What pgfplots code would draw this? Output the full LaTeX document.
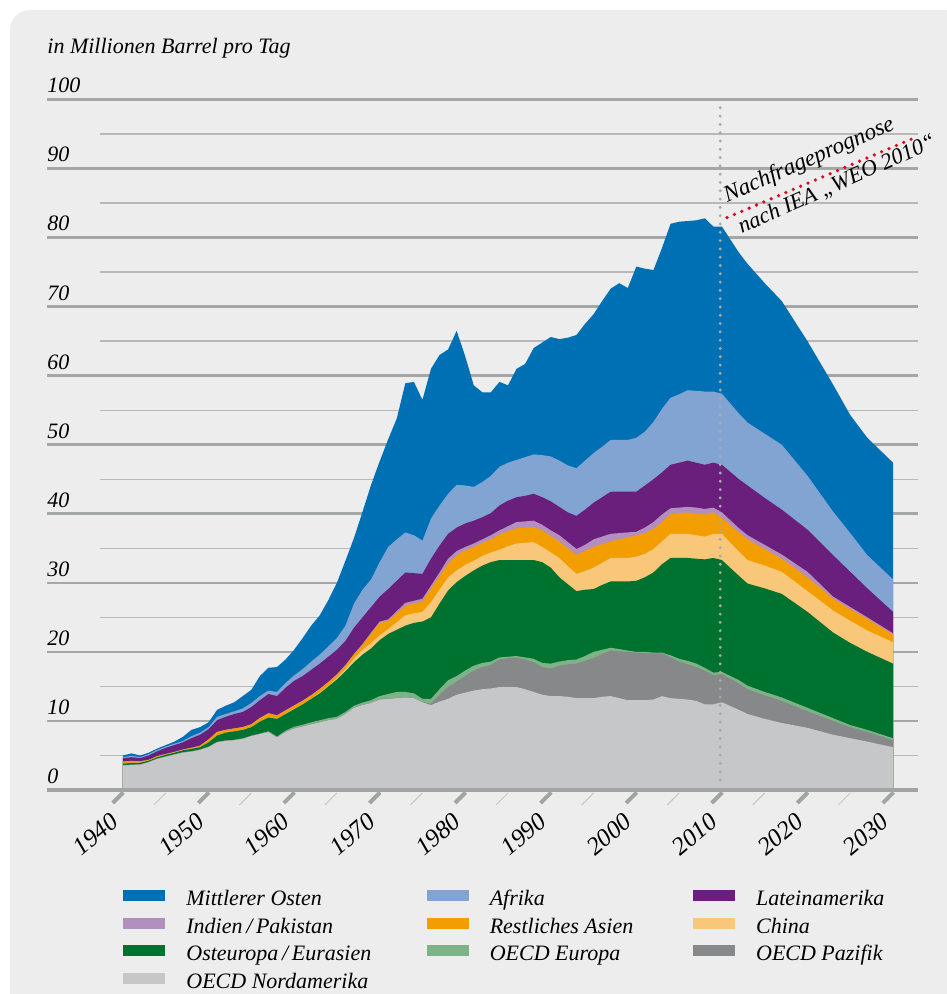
\documentclass[border=0pt]{standalone}
\usepackage{fontspec}
\setmainfont{Liberation Serif}
\usepackage{pgfplots}
\pgfplotsset{compat=1.18}
\usepackage{pgfplotstable}

\definecolor{cMO}{HTML}{0070B4}
\definecolor{cAF}{HTML}{81A4D2}
\definecolor{cLA}{HTML}{6B1F7C}
\definecolor{cIN}{HTML}{B38FBF}
\definecolor{cAS}{HTML}{F29E00}
\definecolor{cCN}{HTML}{F9C779}
\definecolor{cOE}{HTML}{00722F}
\definecolor{cEU}{HTML}{7DB387}
\definecolor{cPA}{HTML}{878889}
\definecolor{cNA}{HTML}{C6C7C9}
\definecolor{bg}{HTML}{ECEDEC}
\definecolor{gridc}{HTML}{A5A6A6}
\definecolor{gridthin}{HTML}{B7B8B8}
\definecolor{axisc}{HTML}{A2A3A3}
\definecolor{dotc}{HTML}{A8A9A9}
\definecolor{redc}{HTML}{E2001A}
\definecolor{minortick}{HTML}{C6C7C7}

% cumulative upper edge of each regional band (stacked from OECD Nordamerika upwards)
\pgfplotstableread{
year NA PAZ EUR OST CHN ASI IND LAT AFR MO
1940 3.55 3.60 3.62 3.85 3.87 4.10 4.12 4.60 4.75 5.00
1941 3.60 3.65 3.67 3.90 3.92 4.20 4.22 4.75 4.95 5.30
1942 3.65 3.70 3.72 3.95 3.97 4.15 4.17 4.60 4.75 5.00
1943 4.00 4.05 4.07 4.25 4.27 4.35 4.37 5.00 5.20 5.40
1944 4.50 4.55 4.57 4.75 4.77 4.90 4.92 5.60 5.80 6.00
1945 4.80 4.85 4.87 5.10 5.12 5.20 5.22 6.10 6.30 6.50
1946 5.10 5.15 5.17 5.40 5.42 5.50 5.52 6.50 6.70 7.00
1947 5.40 5.45 5.47 5.75 5.77 5.85 5.87 6.90 7.10 7.70
1948 5.55 5.60 5.62 5.95 5.97 6.10 6.12 7.50 7.80 8.70
1949 5.80 5.85 5.87 6.20 6.22 6.40 6.42 8.00 8.30 9.10
1950 6.20 6.25 6.27 6.90 6.92 7.30 7.32 8.80 9.10 9.80
1951 6.90 6.95 6.97 7.90 7.92 8.40 8.42 10.10 10.60 11.60
1952 7.10 7.15 7.17 8.30 8.32 8.70 8.72 10.60 11.00 12.20
1953 7.20 7.25 7.27 8.50 8.52 8.90 8.92 11.00 11.40 12.70
1954 7.40 7.45 7.47 8.70 8.72 9.10 9.12 11.30 11.80 13.60
1955 7.80 7.85 7.87 9.10 9.12 9.50 9.52 12.00 12.60 14.50
1956 8.10 8.15 8.17 9.90 9.92 10.40 10.42 13.00 13.60 16.50
1957 8.40 8.45 8.50 10.50 10.52 11.10 11.12 13.90 14.40 17.70
1958 7.60 7.65 7.75 10.30 10.32 10.80 10.82 13.60 14.20 17.80
1959 8.40 8.45 8.60 11.00 11.05 11.50 11.55 14.80 15.50 18.90
1960 8.90 8.95 9.15 11.70 11.75 12.20 12.25 15.80 16.60 20.30
1961 9.20 9.25 9.45 12.40 12.45 12.90 12.95 16.50 17.50 22.00
1962 9.50 9.55 9.80 13.20 13.25 13.70 13.75 17.40 18.60 23.80
1963 9.80 9.85 10.10 14.00 14.10 14.60 14.65 18.30 19.60 25.30
1964 10.10 10.15 10.40 15.00 15.10 15.60 15.65 19.30 20.80 27.50
1965 10.30 10.35 10.60 16.00 16.20 16.70 16.75 20.30 22.00 30.00
1966 11.00 11.05 11.30 17.20 17.50 18.00 18.10 21.60 23.80 33.20
1967 11.90 11.95 12.20 18.50 19.00 19.60 19.70 23.50 27.00 36.50
1968 12.30 12.35 12.65 19.60 20.30 21.00 21.15 25.00 29.00 40.30
1969 12.60 12.65 13.00 20.50 21.30 22.60 22.80 26.50 30.50 44.20
1970 13.10 13.15 13.60 21.70 22.40 24.20 24.40 28.00 33.00 47.60
1971 13.20 13.25 13.90 22.60 23.30 24.50 24.70 29.10 35.20 50.80
1972 13.30 13.35 14.20 23.20 24.30 25.60 25.90 30.30 36.30 53.80
1973 13.40 13.45 14.20 23.80 25.30 26.70 27.10 31.50 37.30 58.90
1974 13.30 13.35 14.00 24.20 25.60 27.00 27.40 31.40 36.90 59.10
1975 12.70 12.75 13.20 24.40 25.80 27.30 27.70 31.30 36.10 56.50
1976 12.30 12.50 13.20 25.00 27.20 29.20 29.60 33.50 39.30 61.00
1977 12.80 13.80 14.60 27.00 29.00 31.00 31.50 35.40 41.20 63.00
1978 13.20 14.90 15.90 28.90 30.80 32.80 33.50 37.10 42.90 63.80
1979 13.80 15.70 16.50 30.10 31.80 34.00 34.60 38.00 44.20 66.50
1980 14.10 16.50 17.30 31.00 32.60 34.70 35.20 38.60 44.10 62.80
1981 14.40 17.30 18.00 31.80 33.20 35.20 35.70 39.00 43.90 58.60
1982 14.60 17.80 18.40 32.50 33.90 35.80 36.30 39.50 44.60 57.60
1983 14.70 18.10 18.60 33.00 34.40 36.30 36.90 40.10 45.50 57.60
1984 14.90 18.90 19.20 33.30 34.80 37.00 37.60 41.20 46.80 59.10
1985 14.90 19.10 19.30 33.30 35.30 37.50 38.20 41.90 47.40 58.60
1986 14.90 19.20 19.40 33.30 35.70 37.90 38.80 42.40 47.80 61.00
1987 14.60 18.90 19.20 33.30 35.80 38.00 38.90 42.60 48.20 61.70
1988 14.20 18.50 19.00 33.30 35.90 38.10 39.00 42.90 48.60 64.00
1989 13.80 17.80 18.40 33.00 35.20 37.60 38.40 42.40 48.50 64.80
1990 13.60 17.60 18.30 32.20 34.40 36.80 37.60 41.80 48.30 65.60
1991 13.60 18.00 18.60 30.80 33.60 36.00 36.90 41.00 47.70 65.30
1992 13.50 18.20 18.80 29.80 32.40 35.00 35.90 40.20 47.00 65.50
1993 13.30 18.30 18.90 28.80 31.30 34.10 34.90 39.70 46.60 65.90
1994 13.30 18.70 19.40 29.00 31.70 34.60 35.50 40.60 47.70 67.50
1995 13.30 19.10 20.00 29.10 32.20 35.20 36.30 41.60 48.80 68.90
1996 13.50 19.70 20.30 29.70 32.90 35.60 36.70 42.40 49.70 70.80
1997 13.60 20.20 20.60 30.20 33.60 36.00 37.10 43.20 50.70 72.60
1998 13.30 20.10 20.40 30.20 33.60 36.30 37.20 43.20 50.70 73.40
1999 13.00 20.00 20.20 30.20 33.60 36.60 37.30 43.20 50.70 72.70
2000 13.00 19.90 20.00 30.30 33.80 36.90 37.40 43.20 51.00 75.80
2001 13.00 19.80 20.00 30.80 34.20 37.20 38.00 44.10 51.90 75.50
2002 13.10 19.80 19.90 31.50 34.90 37.80 38.80 45.00 53.30 75.30
2003 13.60 19.80 19.90 32.70 36.00 38.80 39.90 46.00 55.20 78.50
2004 13.30 19.20 19.50 33.60 37.10 39.90 40.80 47.10 56.80 82.00
2005 13.20 18.60 19.00 33.60 37.10 40.10 40.90 47.40 57.30 82.30
2006 13.10 18.20 18.70 33.60 37.10 40.20 41.00 47.70 57.90 82.40
2007 12.90 17.80 18.30 33.50 36.90 40.00 40.90 47.40 57.80 82.50
2008 12.40 17.30 17.70 33.40 36.70 39.90 40.70 47.10 57.70 82.80
2009 12.40 16.60 17.00 33.60 37.10 40.20 40.90 47.40 57.70 81.60
2010 12.70 16.80 17.10 33.30 37.10 39.40 40.20 47.10 57.40 81.60
2012 11.60 15.40 15.90 31.00 34.50 37.30 37.90 45.00 54.50 77.80
2013 11.00 14.60 15.10 29.90 33.30 36.30 36.90 44.10 53.20 76.20
2015 10.30 13.70 14.20 29.20 32.50 34.90 35.50 42.30 51.60 73.40
2017 9.70 12.90 13.40 28.40 31.60 33.50 34.10 40.60 50.00 70.80
2020 9.00 11.40 11.90 25.80 28.80 30.80 31.60 37.70 45.50 65.00
2023 8.00 10.00 10.40 22.80 26.00 27.70 28.00 34.00 40.30 58.70
2025 7.50 9.10 9.40 21.30 24.50 26.20 26.50 31.60 37.20 54.30
2027 7.00 8.40 8.70 20.00 23.10 24.80 25.00 29.20 34.00 51.00
2030 6.20 7.20 7.50 18.30 21.40 22.50 22.70 25.80 30.50 47.40
}\prodtab

\begin{document}
\begin{tikzpicture}[font=\fontsize{11}{13.2}\selectfont\itshape]
\useasboundingbox (0,0) rectangle (473pt,497pt);
\fill[white] (0,0) rectangle (473pt,497pt);
\fill[bg, rounded corners=10pt] (5pt,-30pt) rectangle (510pt,492pt);
\begin{axis}[
  at={(23.5pt,102pt)}, anchor=south west,
  scale only axis, width=435.5pt, height=345.25pt,
  xmin=1931.12, xmax=2032.92, ymin=0, ymax=100,
  axis line style={draw=none},
  tick style={draw=none},
  major tick length=0pt,
  xtick={1940,1950,...,2030},
  ticklabel style={font=\fontsize{11}{13.2}\selectfont\itshape},
  xticklabel style={font=\fontsize{12.5}{15}\selectfont\itshape, rotate=40, anchor=north east, inner sep=0pt, xshift=-12pt, yshift=-3.8pt},
  /pgf/number format/assume math mode=true,
  /pgf/number format/1000 sep={},
  ytick={0,10,...,100}, yticklabels={},
  ymajorgrids, major grid style={line width=1.3pt, color=gridc},
  clip=false,
  legend columns=3, legend cell align=left,
  legend image code/.code={\fill[#1] (0pt,-0.5pt) rectangle (21pt,5pt);},
  legend style={at={(0,0)}, anchor=north west, xshift=38pt, yshift=-48.5pt,
     draw=none, fill=none, inner sep=0pt, row sep=1.5pt,
     font=\fontsize{11}{13.2}\selectfont\itshape,
     nodes={inner sep=0.9pt, text height=8pt, text depth=2.6pt},
     /tikz/column 1/.style={column sep=9.6pt},
     /tikz/column 2/.style={column sep=26.8pt},
     /tikz/column 3/.style={column sep=9.6pt},
     /tikz/column 4/.style={column sep=29pt},
     /tikz/column 5/.style={column sep=9.6pt}},
]
\pgfplotsinvokeforeach{5,15,...,95}{
  \draw[line width=0.7pt, color=gridthin] (axis cs:1937.3,#1) -- (axis cs:2032.92,#1);
}
\addplot[fill=cMO, draw=none] table[x=year,y=MO]{\prodtab} \closedcycle;
\addlegendentry{Mittlerer Osten}
\addplot[fill=cAF, draw=none] table[x=year,y=AFR]{\prodtab} \closedcycle;
\addlegendentry{Afrika}
\addplot[fill=cLA, draw=none] table[x=year,y=LAT]{\prodtab} \closedcycle;
\addlegendentry{Lateinamerika}
\addplot[fill=cIN, draw=none] table[x=year,y=IND]{\prodtab} \closedcycle;
\addlegendentry{Indien\,/\,Pakistan}
\addplot[fill=cAS, draw=none] table[x=year,y=ASI]{\prodtab} \closedcycle;
\addlegendentry{Restliches Asien}
\addplot[fill=cCN, draw=none] table[x=year,y=CHN]{\prodtab} \closedcycle;
\addlegendentry{China}
\addplot[fill=cOE, draw=none] table[x=year,y=OST]{\prodtab} \closedcycle;
\addlegendentry{Osteuropa\,/\,Eurasien}
\addplot[fill=cEU, draw=none] table[x=year,y=EUR]{\prodtab} \closedcycle;
\addlegendentry{OECD Europa}
\addplot[fill=cPA, draw=none] table[x=year,y=PAZ]{\prodtab} \closedcycle;
\addlegendentry{OECD Pazifik}
\addplot[fill=cNA, draw=none] table[x=year,y=NA]{\prodtab} \closedcycle;
\addlegendentry{OECD Nordamerika}

% demand forecast marker line
\addplot[forget plot, color=redc, line width=1.8pt, line cap=round, dash pattern=on 0pt off 4pt]
  coordinates {(2010.6,82.9) (2032.8,94.6)};

\draw[line width=2.2pt, color=axisc] (axis cs:1931.12,0) -- (axis cs:2032.92,0);
\pgfplotsinvokeforeach{1940,1950,...,2030}{
  \draw[line width=2pt, color=axisc] (axis cs:#1,0) ++(0.2pt,-1.2pt) -- ++(-5.3pt,-5.3pt);
}
\pgfplotsinvokeforeach{1945,1955,...,2025}{
  \draw[line width=0.5pt, color=minortick] (axis cs:#1,0) ++(0pt,-1.5pt) -- ++(-6pt,-6pt);
}
\draw[color=dotc, line width=1.6pt, line cap=round, dash pattern=on 0pt off 4.15pt]
  (axis cs:2009.8,100) -- (axis cs:2009.8,0.8);

\pgfplotsinvokeforeach{0,10,...,100}{
  \node[anchor=base west, inner sep=0pt, yshift=3.3pt] at (axis cs:1931.12,#1) {#1};
}
\node[anchor=base west, inner sep=0pt] at (axis cs:1931.12,106.6) {in Millionen Barrel pro Tag};
\node[anchor=base west, inner sep=0pt, rotate=23.5, font=\fontsize{11.6}{14}\selectfont\itshape] at (axis cs:2010.6,85.1) {Nachfrageprognose};
\node[anchor=base west, inner sep=0pt, rotate=24, font=\fontsize{11.2}{14}\selectfont\itshape] at (axis cs:2012.3,80.55) {nach IEA „WEO 2010“};
\end{axis}
\end{tikzpicture}
\end{document}
